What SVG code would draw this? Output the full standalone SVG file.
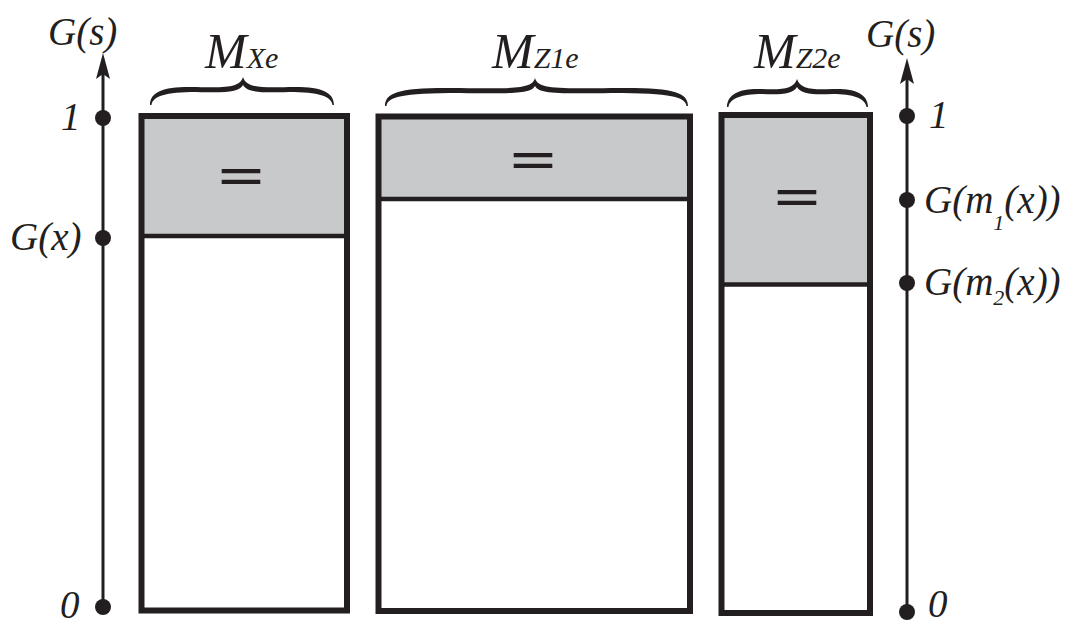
<svg xmlns="http://www.w3.org/2000/svg" width="1068" height="624" viewBox="0 0 1068 624">
<style>
.t{font-family:'Liberation Serif',serif;font-style:italic;fill:#231f20}
.lab{font-size:39px}
.big{font-size:50px}
.sub{font-size:30px}
.small{font-size:22px}
.eq{font-family:'Liberation Sans',sans-serif;font-size:44px;font-weight:bold;fill:#231f20;text-anchor:middle}
.box{fill:none;stroke:#231f20;stroke-width:6}
.gray{fill:#c8c9cb}
.div{stroke:#231f20;stroke-width:4.5}
.axis{stroke:#231f20;stroke-width:3;fill:none}
.dot{fill:#231f20}
.brace{fill:#231f20}
</style>
<defs>
<path id="arrowhead" d="M0,0 L7,26 L0,21 L-7,26 Z"/>
</defs>
<rect width="1068" height="624" fill="#ffffff"/>
<g id="connectors">
<g id="axis-left">
<line class="axis" x1="103" y1="72" x2="103" y2="607"/>
<use class="dot" href="#arrowhead" x="103" y="53"/>
</g>
<g id="axis-right">
<line class="axis" x1="907" y1="77" x2="907" y2="612"/>
<use class="dot" href="#arrowhead" x="907" y="58"/>
</g>
</g>
<g id="left-labels">
<text class="t lab" x="48" y="45" font-family="Liberation Serif" font-style="italic">G(s)</text>
<circle class="dot" cx="103" cy="118" r="8"/>
<text class="t lab" x="61" y="130" font-family="Liberation Serif" font-style="italic">1</text>
<circle class="dot" cx="103" cy="238" r="8"/>
<text class="t lab" x="10" y="250" font-family="Liberation Serif" font-style="italic">G(x)</text>
<circle class="dot" cx="103" cy="607" r="8"/>
<text class="t lab" x="60" y="618" font-family="Liberation Serif" font-style="italic">0</text>
</g>
<g id="right-labels">
<text class="t lab" x="866" y="47" font-family="Liberation Serif" font-style="italic">G(s)</text>
<circle class="dot" cx="907" cy="116" r="8"/>
<text class="t lab" x="929" y="128" font-family="Liberation Serif" font-style="italic">1</text>
<circle class="dot" cx="907" cy="200" r="8"/>
<text class="t lab" x="924" y="213" font-family="Liberation Serif" font-style="italic">G(m<tspan class="small" dy="17">1</tspan><tspan dy="-17">(x))</tspan></text>
<circle class="dot" cx="907" cy="283" r="8"/>
<text class="t lab" x="924" y="295" font-family="Liberation Serif" font-style="italic">G(m<tspan class="small" dy="10">2</tspan><tspan dy="-10">(x))</tspan></text>
<circle class="dot" cx="907" cy="612" r="8"/>
<text class="t lab" x="928" y="617" font-family="Liberation Serif" font-style="italic">0</text>
</g>
<g id="box-MXe">
<rect class="gray" x="141.5" y="116" width="205.5" height="120"/>
<line class="div" x1="141.5" y1="236" x2="347" y2="236"/>
<rect class="box" x="141.5" y="116" width="205.5" height="494.5"/>
<text class="eq" font-family="Liberation Sans" transform="translate(241,190) scale(1.75,0.9)">=</text>
<path class="brace" d="M150,105 C150,91 165,86 196.5,87 C228,88 240,87 243,77 C246,87 258,88 288.5,87 C319,86 334,91 334,105 L332.5,105 C331,96 319,92 288.5,92 C259,93 247,92 243,85 C239,92 227,93 196.5,92 C165,92 153,96 151.5,105 Z"/>
<text class="t big" x="205" y="68" font-family="Liberation Serif" font-style="italic">M<tspan class="sub">Xe</tspan></text>
</g>
<g id="box-MZ1e">
<rect class="gray" x="378.5" y="116.5" width="311.5" height="82.5"/>
<line class="div" x1="378.5" y1="199" x2="690" y2="199"/>
<rect class="box" x="378.5" y="116.5" width="311.5" height="494.5"/>
<text class="eq" font-family="Liberation Sans" transform="translate(533,174) scale(1.75,0.9)">=</text>
<path class="brace" d="M385,106 C385,92 400,87 460,88 C520,89 532,88 535,78 C538,88 550,89 611.5,88 C673,87 688,92 688,106 L686.5,106 C685,97 673,93 611.5,93 C551,94 539,93 535,86 C531,93 519,94 460,93 C400,93 388,97 386.5,106 Z"/>
<text class="t big" x="492" y="68" font-family="Liberation Serif" font-style="italic">M<tspan class="sub">Z1e</tspan></text>
</g>
<g id="box-MZ2e">
<rect class="gray" x="721.5" y="115" width="148.5" height="169.5"/>
<line class="div" x1="721.5" y1="284.5" x2="870" y2="284.5"/>
<rect class="box" x="721.5" y="115" width="148.5" height="498"/>
<text class="eq" font-family="Liberation Sans" transform="translate(797,211) scale(1.75,0.9)">=</text>
<path class="brace" d="M727,107 C727,93 742,88 762,89 C782,90 794,89 797,79 C800,89 812,90 832.5,89 C853,88 868,93 868,107 L866.5,107 C865,98 853,94 832.5,94 C813,95 801,94 797,87 C793,94 781,95 762,94 C742,94 730,98 728.5,107 Z"/>
<text class="t big" x="754" y="68" font-family="Liberation Serif" font-style="italic">M<tspan class="sub">Z2e</tspan></text>
</g>
</svg>
